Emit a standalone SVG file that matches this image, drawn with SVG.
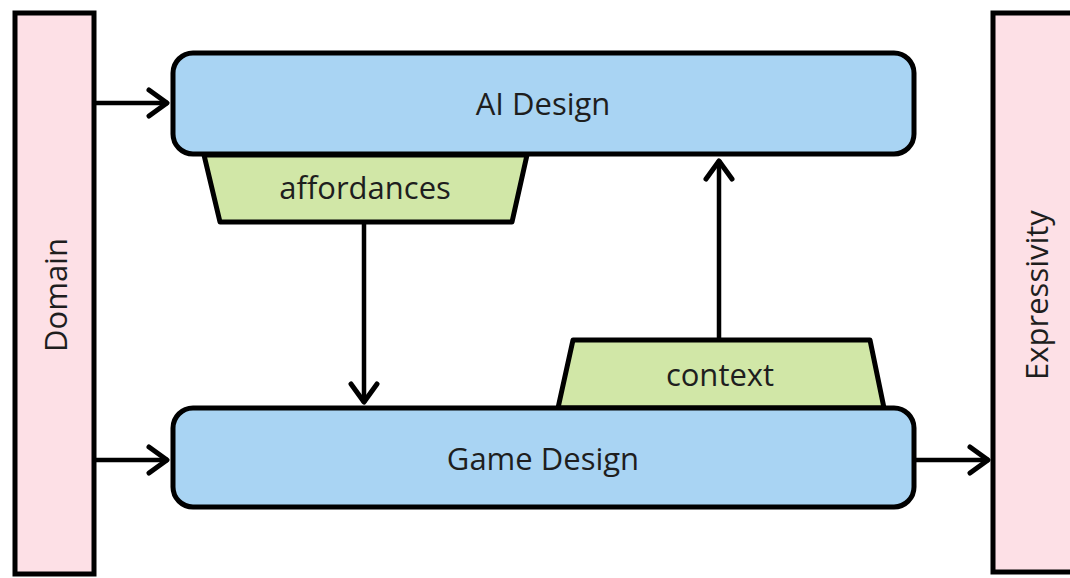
<svg xmlns="http://www.w3.org/2000/svg" width="1070" height="578" viewBox="0 0 1070 578">
<style>
.side{fill:#fde0e6;stroke:#000;stroke-width:5}
.box{fill:#a9d4f3;stroke:#000;stroke-width:5}
.tab{fill:#d1e7a7;stroke:#000;stroke-width:5;stroke-linejoin:round}
.lbl{font-family:"Open Sans","Noto Sans",sans-serif;font-size:31px;fill:#1e1e1e;text-anchor:middle;dominant-baseline:central}
.conn{stroke:#000;stroke-width:4.5;fill:none}
</style>
<defs>
<marker id="arr" viewBox="0 0 26 32" refX="24" refY="16" markerWidth="26" markerHeight="32" markerUnits="userSpaceOnUse" orient="auto">
<path d="M5,3 L23,16 L5,29" fill="none" stroke="#000" stroke-width="5" stroke-linecap="round" stroke-linejoin="round"/>
</marker>
</defs>
<g id="domain">
<rect class="side" x="15" y="13" width="79" height="561"/>
<text class="lbl" transform="translate(55,295) rotate(-90)">Domain</text>
</g>
<g id="expressivity">
<rect class="side" x="993" y="13" width="82" height="559"/>
<text class="lbl" transform="translate(1036,295) rotate(-90)">Expressivity</text>
</g>
<g id="affordances">
<polygon class="tab" points="204,155 527,155 512,222 220,222"/>
<text class="lbl" x="365" y="187">affordances</text>
</g>
<g id="context">
<polygon class="tab" points="573,340 870,340 884,408 558,408"/>
<text class="lbl" x="720" y="374">context</text>
</g>
<g id="ai-design">
<rect class="box" x="173" y="53" width="741" height="101" rx="20"/>
<text class="lbl" x="543" y="103">AI Design</text>
</g>
<g id="game-design">
<rect class="box" x="173" y="408" width="741" height="99" rx="20"/>
<text class="lbl" x="543" y="458">Game Design</text>
</g>
<g id="connectors">
<line class="conn" x1="94" y1="103" x2="168" y2="103" marker-end="url(#arr)"/>
<line class="conn" x1="94" y1="460" x2="168" y2="460" marker-end="url(#arr)"/>
<line class="conn" x1="914" y1="460" x2="989" y2="460" marker-end="url(#arr)"/>
<line class="conn" x1="364" y1="224" x2="364" y2="403" marker-end="url(#arr)"/>
<line class="conn" x1="719" y1="338" x2="719" y2="160" marker-end="url(#arr)"/>
</g>
</svg>
